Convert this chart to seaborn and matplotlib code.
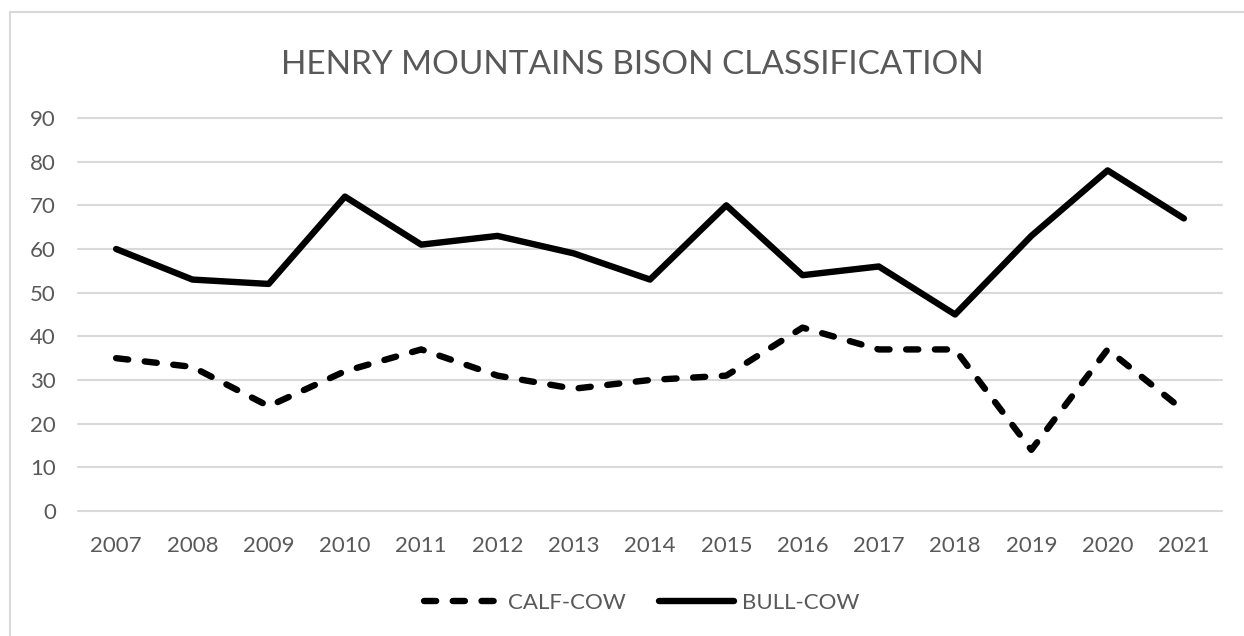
import numpy as np
import pandas as pd
import matplotlib
matplotlib.use("Agg")
import matplotlib.pyplot as plt
from matplotlib.patches import Rectangle
import seaborn as sns

# values
years = [2007, 2008, 2009, 2010, 2011, 2012, 2013, 2014,
         2015, 2016, 2017, 2018, 2019, 2020, 2021]
calf_cow = [35, 33, 24, 32, 37, 31, 28, 30, 31, 42, 37, 37, 14, 37, 23]
bull_cow = [60, 53, 52, 72, 61, 63, 59, 53, 70, 54, 56, 45, 63, 78, 67]
series_names = ["CALF-COW", "BULL-COW"]
y_ticks = [0, 10, 20, 30, 40, 50, 60, 70, 80, 90]
title = "HENRY MOUNTAINS BISON CLASSIFICATION"

df = pd.DataFrame({"year": years, series_names[0]: calf_cow, series_names[1]: bull_cow})

sns.set_theme(style="white")
plt.rcParams["font.family"] = ["Lato", "DejaVu Sans"]
text_grey = "#595959"
grid_grey = "#d9d9d9"

fig = plt.figure(figsize=(12.44, 6.36), dpi=100)
ax = fig.add_axes([78 / 1244, 1 - 511 / 636, 1144 / 1244, 393 / 636])

# calf-cow: dashed
sns.lineplot(data=df, x="year", y=series_names[0], ax=ax, color="black",
             linewidth=4.6, label=series_names[0])
ax.lines[-1].set_dashes((1.9, 2.6))
ax.lines[-1].set_dash_capstyle("round")
# bull-cow: solid
sns.lineplot(data=df, x="year", y=series_names[1], ax=ax, color="black",
             linewidth=4.6, label=series_names[1])
ax.lines[-1].set_solid_capstyle("round")

ax.set_xlim(years[0] - 0.5, years[-1] + 0.5)
ax.set_ylim(y_ticks[0], y_ticks[-1])
ax.set_xticks(years)
ax.set_yticks(y_ticks)
ax.set_xlabel("")
ax.set_ylabel("")
for s in ax.spines.values():
    s.set_visible(False)
ax.grid(axis="y", color=grid_grey, linewidth=1.5)
ax.grid(axis="x", visible=False)
ax.set_axisbelow(True)
for gl in ax.get_ygridlines():
    gl.set_clip_on(False)
ax.tick_params(axis="both", length=0, labelsize=16, labelcolor=text_grey)
ax.tick_params(axis="y", pad=16)
ax.tick_params(axis="x", pad=18)

ax.get_legend().remove()
handles, labels = ax.get_legend_handles_labels()
leg = fig.legend(handles, labels, loc="center", bbox_to_anchor=(642 / 1244, 1 - 603 / 636),
                 ncol=2, frameon=False, fontsize=16, handlelength=3.4,
                 handletextpad=0.35, columnspacing=1.5)
for t in leg.get_texts():
    t.set_color(text_grey)

fig.text(632 / 1244, 1 - 65 / 636, title, ha="center", va="center",
         fontsize=24, color=text_grey)

# chart area border (runs off the right and bottom edges)
fig.patches.append(Rectangle((10 / 1244, -0.05), 1.2, 1 - 12 / 636 + 0.05,
                             transform=fig.transFigure, fill=False,
                             edgecolor=grid_grey, linewidth=1.5))

fig.savefig("out.png", dpi=100)
